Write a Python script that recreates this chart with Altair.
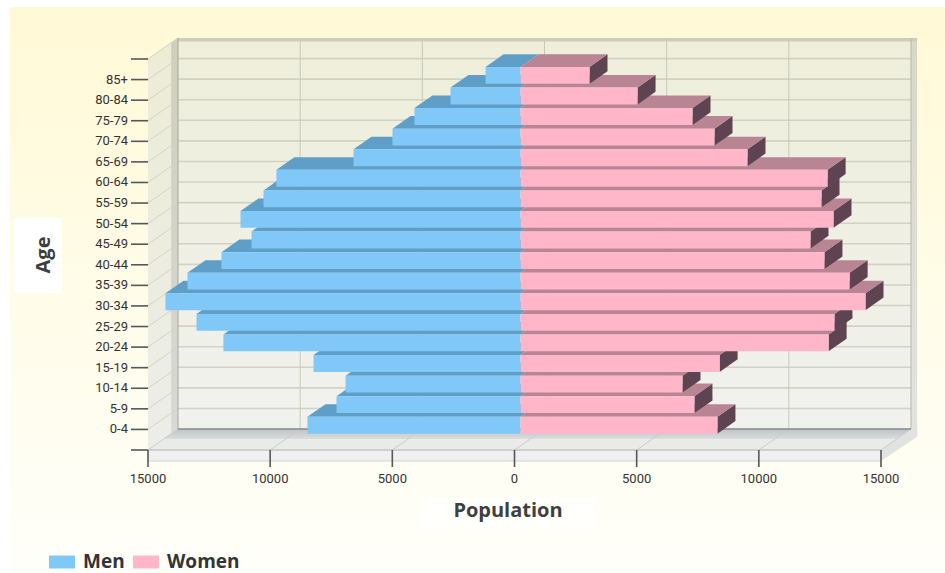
import altair as alt
import pandas as pd

# Population by five-year age band
AGE_GROUPS = ["0-4", "5-9", "10-14", "15-19", "20-24", "25-29", "30-34", "35-39", "40-44",
              "45-49", "50-54", "55-59", "60-64", "65-69", "70-74", "75-79", "80-84", "85+"]
MEN = [8720, 7530, 7160, 8470, 12160, 13260, 14530, 13630, 12240,
       11010, 11460, 10520, 9990, 6835, 5240, 4340, 2865, 1430]
WOMEN = [8060, 7120, 6630, 8150, 12610, 12850, 14120, 13470, 12440,
         11870, 12810, 12320, 12570, 9290, 7940, 7040, 4790, 2825]

X_TICKS = [-15000, -10000, -5000, 0, 5000, 10000, 15000]
X_LABELS = ["15000", "10000", "5000", "0", "5000", "10000", "15000"]
Y_TICKS = list(range(-1, 19))

# Oblique projection: how far the full depth of the box moves a point, in data units
DEPTH_X = 1228
DEPTH_Y = 1.02
BAR_FRONT = 0.2
BAR_BACK = 0.8
BAR_HALF = 0.41
FLOOR_DROP = 0.534
TICK_X = 696
TICK_Y = 0.825

X_MIN, X_MAX = -15000, 15000
Y_MIN, Y_MAX = -1, 18

x_scale = alt.Scale(domain=[X_MIN, X_MAX + DEPTH_X], nice=False, zero=False)
y_scale = alt.Scale(domain=[Y_MIN, Y_MAX + DEPTH_Y], nice=False, zero=False)

FACES = ["Men", "Women", "Men top", "Women top", "Women side"]
FACE_COLORS = ["#80C8F8", "#FFB6C8", "#5F9EC6", "#B98494", "#5E4450"]
color_scale = alt.Scale(domain=FACES, range=FACE_COLORS)


def gradient(top, bottom):
    return alt.Gradient(
        gradient="linear",
        stops=[alt.GradientStop(color=top, offset=0), alt.GradientStop(color=bottom, offset=1)],
        x1=0, x2=0, y1=0, y2=1,
    )


def px(x, x2, y, y2):
    """Encodings for page furniture placed in pixels relative to the plot area."""
    return dict(x=alt.value(x), x2=alt.value(x2), y=alt.value(y), y2=alt.value(y2))


def rect(x, x2, y, y2, fill):
    frame = pd.DataFrame([dict(x=x, x2=x2, y=y, y2=y2)])
    return alt.Chart(frame).mark_rect(fill=fill).encode(
        x=alt.X("x:Q", scale=x_scale, axis=None),
        x2="x2:Q",
        y=alt.Y("y:Q", scale=y_scale, axis=None),
        y2="y2:Q",
    )


def slab_h(y0, y1, x0, x0b, x1, x1b, fill):
    """Parallelogram with horizontal top and bottom edges."""
    frame = pd.DataFrame([dict(y=y0, x=x0, x2=x1), dict(y=y1, x=x0b, x2=x1b)])
    return alt.Chart(frame).mark_area(orient="horizontal", fill=fill).encode(
        y=alt.Y("y:Q", scale=y_scale, axis=None),
        x=alt.X("x:Q", scale=x_scale, axis=None),
        x2="x2:Q",
    )


def slab_v(x0, x1, y0, y0b, y1, y1b, fill):
    """Parallelogram with vertical left and right edges."""
    frame = pd.DataFrame([dict(x=x0, y=y0, y2=y1), dict(x=x1, y=y0b, y2=y1b)])
    return alt.Chart(frame).mark_area(orient="vertical", fill=fill).encode(
        x=alt.X("x:Q", scale=x_scale, axis=None),
        y=alt.Y("y:Q", scale=y_scale, axis=None),
        y2="y2:Q",
    )


def rules(segments, color, width=1.0):
    frame = pd.DataFrame(segments, columns=["x", "x2", "y", "y2"])
    return alt.Chart(frame).mark_rule(color=color, strokeWidth=width).encode(
        x=alt.X("x:Q", scale=x_scale, axis=None),
        x2="x2:Q",
        y=alt.Y("y:Q", scale=y_scale, axis=None),
        y2="y2:Q",
    )


blank = alt.Data(values=[{}])

# Page backdrop and the white patches behind the axis titles
backdrop = [
    alt.Chart(blank).mark_rect(fill=gradient("#FFF9D6", "#FFFFFA")).encode(**px(-138, 797, -31, 535)),
    alt.Chart(blank).mark_rect(fill="#FFFFFF").encode(**px(-134, -86, 180, 255)),
    alt.Chart(blank).mark_rect(fill="#FFFFFF", opacity=0.7).encode(**px(272, 447, 460, 489)),
]

# The box: side wall, back wall, floor
wall_x0 = X_MIN + DEPTH_X
wall_x1 = X_MAX + DEPTH_X
wall_y0 = Y_MIN + DEPTH_Y
wall_y1 = Y_MAX + DEPTH_Y
frame_layers = [
    slab_v(X_MIN, X_MIN + 0.77 * DEPTH_X, Y_MIN, Y_MIN + 0.77 * DEPTH_Y,
           Y_MAX, Y_MAX + 0.77 * DEPTH_Y, gradient("#ECECD6", "#ECEDE8")),
    slab_v(X_MIN + 0.77 * DEPTH_X, wall_x0, Y_MIN + 0.77 * DEPTH_Y, wall_y0,
           Y_MAX + 0.77 * DEPTH_Y, wall_y1, gradient("#CFCFBC", "#D6D9D6")),
    rect(wall_x0, wall_x1, wall_y0, wall_y1, gradient("#EEEEDA", "#F1F1EF")),
    rect(wall_x1, wall_x1 + 250, wall_y0 - 0.38, wall_y1, gradient("#D8D8C6", "#E2E4DE")),
    rect(wall_x0, wall_x1 + 250, wall_y1 - 0.17, wall_y1, "#CDCDB8"),
    # horizontal grid on the back wall, running on to the side wall
    rules([(wall_x0, wall_x1, t + DEPTH_Y, t + DEPTH_Y) for t in Y_TICKS[1:-1]], "#D2D2C2", 1.6),
    rules([(X_MIN, wall_x0, t, t + DEPTH_Y) for t in Y_TICKS[1:]], "#D4D4C4", 1.0),
    rules([(t + DEPTH_X, t + DEPTH_X, wall_y0, wall_y1) for t in X_TICKS[1:-1]], "#C8C8B8", 1.0),
    rules([(wall_x0, wall_x0, wall_y0, wall_y1)], "#A8A89A", 1.0),
    rules([(wall_x1, wall_x1, wall_y0, wall_y1)], "#B8B8AA", 1.0),
    # floor: shaded back half, pale front half, front lip and right edge
    slab_h(Y_MIN + 0.5 * DEPTH_Y, wall_y0, X_MIN + 0.5 * DEPTH_X, wall_x0,
           X_MAX + 0.5 * DEPTH_X, wall_x1, gradient("#BFC3C7", "#DCDEDE")),
    slab_h(Y_MIN, Y_MIN + 0.5 * DEPTH_Y, X_MIN, X_MIN + 0.5 * DEPTH_X,
           X_MAX, X_MAX + 0.5 * DEPTH_X, "#E9EBE9"),
    rect(X_MIN, X_MAX, Y_MIN - FLOOR_DROP, Y_MIN, "#EFF0EF"),
    slab_v(X_MAX, wall_x1 + 250, Y_MIN - FLOOR_DROP, wall_y0 - 0.38, Y_MIN, wall_y0 + 0.2, "#E0E3DF"),
    rules([(t, t + DEPTH_X, Y_MIN, wall_y0) for t in X_TICKS], "#CACCCA", 1.0),
    rules([(X_MIN, X_MAX, Y_MIN, Y_MIN)], "#C4C6C4", 1.4),
    rules([(X_MIN, X_MAX, Y_MIN - FLOOR_DROP, Y_MIN - FLOOR_DROP)], "#D2D4D2", 1.2),
    rules([(wall_x0, wall_x1, wall_y0, wall_y0)], "#85888A", 1.6),
]

# Axis ticks, tick labels and titles, positioned on the shared scales
AXIS_FONT = "Roboto"
TITLE_FONT = "Open Sans"
x_label_frame = pd.DataFrame({"x": X_TICKS, "y": [Y_MIN] * len(X_TICKS), "label": X_LABELS})
y_label_frame = pd.DataFrame({"x": [X_MIN] * len(AGE_GROUPS), "y": range(len(AGE_GROUPS)), "label": AGE_GROUPS})
axis_layers = [
    rules([(t, t, Y_MIN, Y_MIN - TICK_Y) for t in X_TICKS], "#55585A", 1.6),
    rules([(X_MIN - TICK_X, X_MIN, t, t) for t in Y_TICKS], "#55585A", 1.6),
    alt.Chart(x_label_frame).mark_text(
        font=AXIS_FONT, fontSize=13, color="#333333", align="center", baseline="middle", dy=29,
    ).encode(
        x=alt.X("x:Q", scale=x_scale, axis=None),
        y=alt.Y("y:Q", scale=y_scale, axis=None),
        text="label:N",
    ),
    alt.Chart(y_label_frame).mark_text(
        font=AXIS_FONT, fontSize=13, color="#333333", align="right", baseline="middle", dx=-20,
    ).encode(
        x=alt.X("x:Q", scale=x_scale, axis=None),
        y=alt.Y("y:Q", scale=y_scale, axis=None),
        text="label:N",
    ),
    alt.Chart(blank).mark_text(
        text="Population", font=TITLE_FONT, fontWeight="bold", fontSize=20, color="#3F3F3F",
        align="center", baseline="middle",
    ).encode(x=alt.value(360), y=alt.value(473)),
    alt.Chart(blank).mark_text(
        text="Age", font=TITLE_FONT, fontWeight="bold", fontSize=20, color="#3F3F3F",
        align="center", baseline="middle", angle=270,
    ).encode(x=alt.value(-104), y=alt.value(217)),
]

legend_spec = alt.Legend(
    values=["Men", "Women"], orient="none", legendX=-99, legendY=511,
    direction="horizontal", columns=2, title=None,
    symbolType="M-1,-0.5H1V0.5H-1Z", symbolSize=676, symbolStrokeWidth=0,
    labelFont=TITLE_FONT, labelFontWeight="bold", labelFontSize=19, labelColor="#333333",
    columnPadding=8, labelOffset=8,
)


def row_faces(i):
    """Two layers for one age band: faces spanned horizontally, and the women's end cap."""
    m, w = MEN[i], WOMEN[i]
    fx, bx = BAR_FRONT * DEPTH_X, BAR_BACK * DEPTH_X
    fy, by = BAR_FRONT * DEPTH_Y, BAR_BACK * DEPTH_Y
    low, high = i - BAR_HALF, i + BAR_HALF
    flat = [
        dict(face="Men top", y=high + fy, x=fx - m, x2=fx),
        dict(face="Men top", y=high + by, x=bx - m, x2=bx),
        dict(face="Women top", y=high + fy, x=fx, x2=fx + w),
        dict(face="Women top", y=high + by, x=bx, x2=bx + w),
        dict(face="Men", y=low + fy, x=fx - m, x2=fx),
        dict(face="Men", y=high + fy, x=fx - m, x2=fx),
        dict(face="Women", y=low + fy, x=fx, x2=fx + w),
        dict(face="Women", y=high + fy, x=fx, x2=fx + w),
    ]
    cap = [
        dict(face="Women side", x=fx + w, y=low + fy, y2=high + fy),
        dict(face="Women side", x=bx + w, y=low + by, y2=high + by),
    ]
    legend = legend_spec if i == 0 else None
    flat_layer = alt.Chart(pd.DataFrame(flat)).mark_area(orient="horizontal").encode(
        y=alt.Y("y:Q", scale=y_scale, axis=None),
        x=alt.X("x:Q", scale=x_scale, axis=None),
        x2="x2:Q",
        color=alt.Color("face:N", scale=color_scale, legend=legend),
        detail="face:N",
    )
    cap_layer = alt.Chart(pd.DataFrame(cap)).mark_area(orient="vertical").encode(
        x=alt.X("x:Q", scale=x_scale, axis=None),
        y=alt.Y("y:Q", scale=y_scale, axis=None),
        y2="y2:Q",
        color=alt.Color("face:N", scale=color_scale, legend=legend),
    )
    return [cap_layer, flat_layer]


# Lower bands first: each higher band hides the back of the one beneath it
bar_layers = []
for index in range(len(AGE_GROUPS)):
    bar_layers.extend(row_faces(index))

chart = alt.layer(*backdrop, *frame_layers, *axis_layers, *bar_layers).properties(
    width=945,
    height=573,
    padding={"left": 148, "top": 38, "right": 34, "bottom": 123},
    autosize=alt.AutoSizeParams(type="none", contains="padding"),
    background="#FFFFFF",
).configure_view(stroke=None)

chart.save("out.html", embed_options={"renderer": "svg", "actions": False})
